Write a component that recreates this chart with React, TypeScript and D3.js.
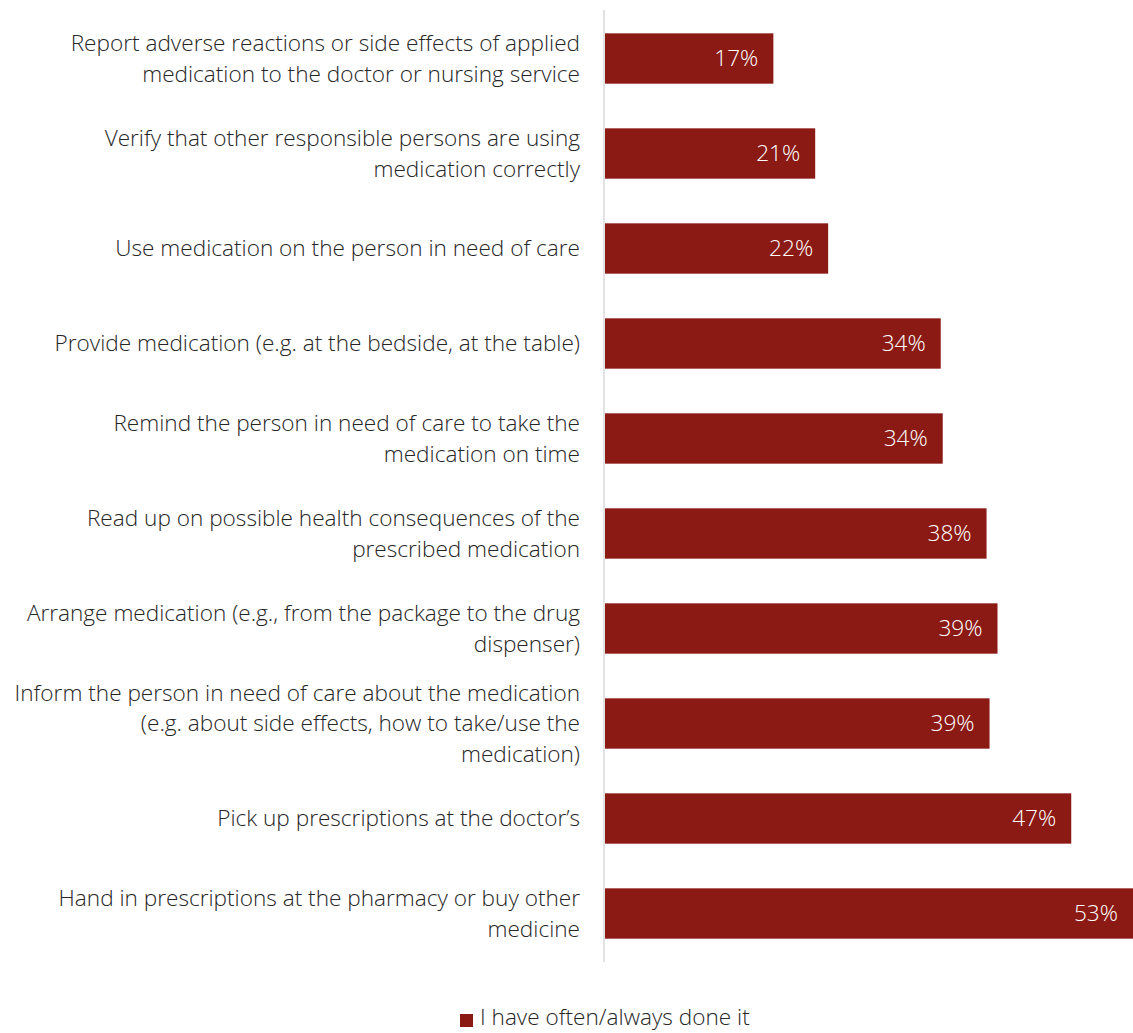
import React from "react";
import * as d3 from "d3";

const categories: string[][] = [
  ["Report adverse reactions or side effects of applied", "medication to the doctor or nursing service"],
  ["Verify that other responsible persons are using", "medication correctly"],
  ["Use medication on the person in need of care"],
  ["Provide medication (e.g. at the bedside, at the table)"],
  ["Remind the person in need of care to take the", "medication on time"],
  ["Read up on possible health consequences of the", "prescribed medication"],
  ["Arrange medication (e.g., from the package to the drug", "dispenser)"],
  ["Inform the person in need of care about the medication", "(e.g. about side effects, how to take/use the", "medication)"],
  ["Pick up prescriptions at the doctor\u2019s"],
  ["Hand in prescriptions at the pharmacy or buy other", "medicine"],
];
const values: number[] = [16.9, 21.1, 22.4, 33.7, 33.9, 38.3, 39.4, 38.6, 46.8, 53.0];
const valueLabels: string[] = ["17%", "21%", "22%", "34%", "34%", "38%", "39%", "39%", "47%", "53%"];
const legendLabel = "I have often/always done it";

const W = 1133;
const H = 1033;
const FONT = "'Open Sans', 'Segoe UI', sans-serif";
const COLOR = "#8B1A15";
const FS = 22.6;

export default function App() {
  const x0 = 605;
  const x = d3.scaleLinear().domain([0, 53]).range([x0, 1133]);
  const y = d3
    .scaleBand<number>()
    .domain(d3.range(values.length))
    .range([11, 961])
    .paddingInner(0.47)
    .paddingOuter(0.235);
  const lineH = 30.5;
  return (
    <svg
      width={W}
      height={H}
      style={{ position: "absolute", left: 0, top: 0, background: "#fff" }}
      fontFamily={FONT}
    >
      <line x1={604} x2={604} y1={10} y2={962} stroke="#d9d9d9" strokeWidth={1.5} />
      {values.map((v, i) => {
        const yy = y(i)!;
        const bw = y.bandwidth();
        const cy = yy + bw / 2;
        const lines = categories[i];
        return (
          <g key={i}>
            <rect x={x(0)} y={yy} width={x(v) - x(0)} height={bw} fill={COLOR} />
            <text
              x={x(v) - 15}
              y={cy}
              dy="0.35em"
              textAnchor="end"
              fill="#fff"
              fontSize={FS}
              fontWeight={300}
            >
              {valueLabels[i]}
            </text>
            {lines.map((l, j) => (
              <text
                key={j}
                x={580}
                y={cy + (j - (lines.length - 1) / 2) * lineH}
                dy="0.35em"
                textAnchor="end"
                fill="#262626"
                fontSize={FS}
                fontWeight={300}
              >
                {l}
              </text>
            ))}
          </g>
        );
      })}
      <rect x={460} y={1014} width={13} height={13} fill={COLOR} />
      <text x={480} y={1017} dy="0.35em" fontSize={FS} fontWeight={300} fill="#262626">
        {legendLabel}
      </text>
    </svg>
  );
}
